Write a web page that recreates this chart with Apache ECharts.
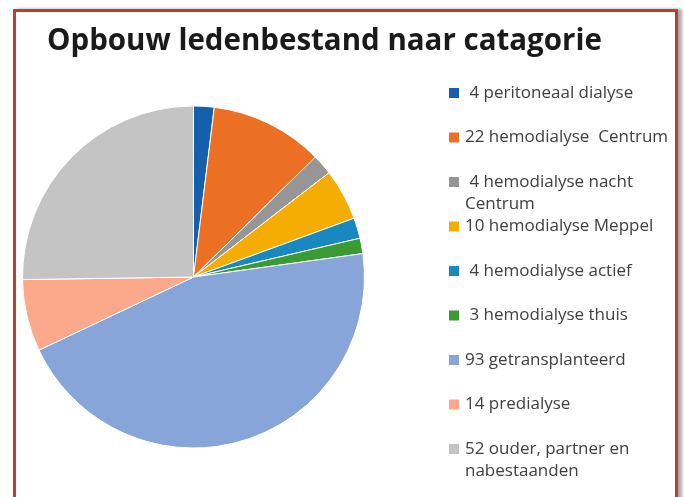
<!DOCTYPE html>
<html>
<head>
<meta charset="utf-8">
<script src="https://cdn.jsdelivr.net/npm/echarts@6/dist/echarts.min.js"></script>
<style>
	html, body { margin: 0; padding: 0; background: #fff; overflow: hidden; }
	.kader {
		position: absolute; left: 13px; top: 9px; width: 659px; height: 520px;
		border: 3px solid #c23b2e; box-shadow: 4px 0 3px #aaa;
	}
	.grafiek { position: absolute; left: 0; top: 0; width: 684px; height: 497px; }
</style>
</head>
<body>
<div class="kader"></div>
<div class="grafiek"></div>
<script>
// categorieen zoals in de legenda (spaties uit het origineel behouden)
var namen = [
	' 4 peritoneaal dialyse',
	'22 hemodialyse  Centrum',
	' 4 hemodialyse nacht\nCentrum',
	'10 hemodialyse Meppel',
	' 4 hemodialyse actief',
	' 3 hemodialyse thuis',
	'93 getransplanteerd',
	'14 predialyse',
	'52 ouder, partner en\nnabestaanden'
];
var aantallen = [4, 22, 4, 10, 4, 3, 93, 14, 52];
var kleuren = ['#1460ad', '#ec7023', '#969696', '#f4ad00', '#1a88c0', '#3a9b35', '#88a5d9', '#fba98a', '#c4c4c4'];

let data = [];
for (let i = 0; i < namen.length; i++) {
	data.push({ name: namen[i], value: aantallen[i] });
}

// elke legendaregel apart, zodat de eerste regel naast het blokje staat
let legendes = [];
for (let i = 0; i < namen.length; i++) {
	let meer = namen[i].indexOf('\n') > -1;
	let midden = 93 + i * 44.5;
	legendes.push({
		orient: 'vertical',
		left: 447,
		top: midden - (meer ? 33 : 11),
		padding: 0,
		itemWidth: 12,
		itemHeight: 12,
		icon: 'rect',
		selectedMode: false,
		formatter: function(n) {
			return n.indexOf('\n') > -1 ? '\n' + n : n;
		},
		textStyle: { fontFamily: 'Open Sans', fontSize: 17, color: '#404040', lineHeight: 22 },
		data: [namen[i]]
	});
}

let myChart = echarts.init(document.getElementsByClassName('grafiek')[0]);
let option = {
	animation: false,
	color: kleuren,
	title: {
		text: 'Opbouw ledenbestand naar catagorie',
		left: 42,
		top: 22,
		textStyle: { fontFamily: 'Open Sans', fontWeight: 'bold', fontSize: 29.5, color: '#1a1a1a' }
	},
	legend: legendes,
	series: [{
		type: 'pie',
		center: [193.5, 277],
		radius: 171,
		startAngle: 90,
		label: { show: false },
		labelLine: { show: false },
		itemStyle: { borderColor: '#fff', borderWidth: 1 },
		emphasis: { disabled: true },
		data: data
	}]
};
myChart.setOption(option);
</script>
</body>
</html>
